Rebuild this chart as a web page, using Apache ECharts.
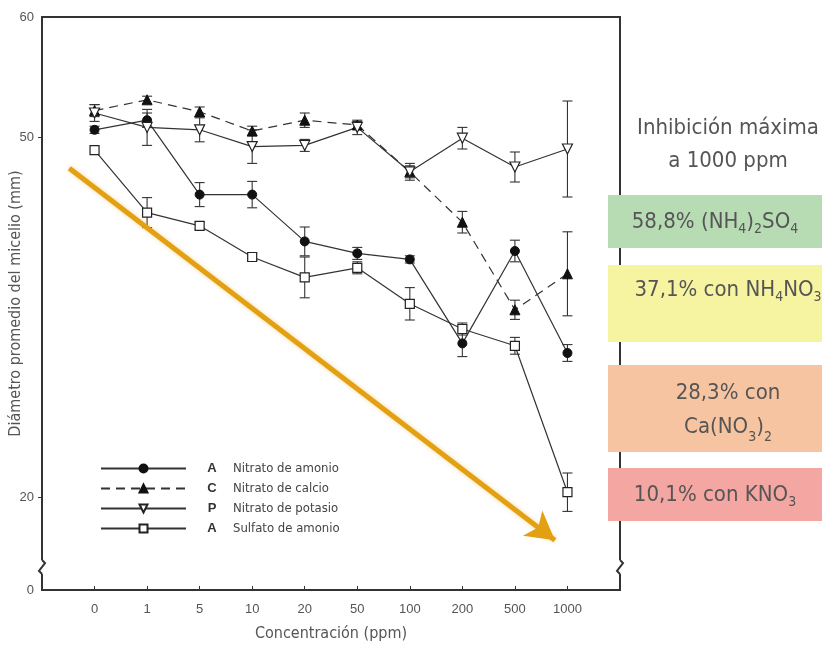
<!DOCTYPE html>
<html><head><meta charset="utf-8">
<script src="https://cdn.jsdelivr.net/npm/echarts@6/dist/echarts.min.js"></script>
<style>html,body{margin:0;padding:0;background:#fff}#c{width:822px;height:645px}</style>
</head><body><div id="c"></div>
<script>
// ---- data ----
const xCats = ['0','1','5','10','20','50','100','200','500','1000'];
const amonio      = [50.6, 51.4, 45.2, 45.2, 41.3, 40.3, 39.8, 32.8, 40.5, 32.0];
const amonioErr   = [0.3, 0.6, 1.0, 1.1, 1.2, 0.5, 0.3, 1.1, 0.9, 0.7];
const calcio      = [52.2, 53.1, 52.1, 50.5, 51.4, 51.0, 47.1, 42.9, 35.6, 38.6];
const calcioErr   = [0.5, 0.3, 0.4, 0.4, 0.6, 0.3, 0.5, 0.9, 0.8, 3.5];
const potasio     = [52.0, 50.8, 50.6, 49.2, 49.3, 50.8, 47.1, 49.9, 47.5, 49.0];
const potasioErr  = [0.7, 1.5, 1.0, 1.4, 0.5, 0.6, 0.7, 0.9, 1.25, 4.0];
const sulfato     = [48.9, 43.7, 42.6, 40.0, 38.3, 39.1, 36.1, 34.0, 32.6, 20.4];
const sulfatoErr  = [0, 1.25, 0.3, 0.3, 1.7, 0.5, 1.35, 0.5, 0.7, 1.6];
const seriesNames = ['Nitrato de amonio','Nitrato de calcio','Nitrato de potasio','Sulfato de amonio'];
const seriesLetters = ['A','C','P','A'];
const yTickValues = [20, 50, 60];
const yBottom = 12.25;          // plotted position of the broken-axis "0"
const yBottomLabel = '0';
const arrowFrom = [-0.48, 47.4];
const arrowTo = [8.76, 16.4];

const narrow = "'Liberation Sans Narrow','DejaVu Sans Condensed','Roboto Condensed',Roboto,sans-serif";
const toPts = arr => arr.map((v,i)=>[i,v]);
const toErr = (v,e) => v.map((val,i)=>[i,val,e[i]]);

function errRender(params, api){
  const x = api.value(0), y = api.value(1), e = api.value(2);
  if(!e) return null;
  const t = api.coord([x, y+e]), b = api.coord([x, y-e]);
  const w = 5, st = {stroke:'#333', lineWidth:1.1};
  return {type:'group', children:[
    {type:'line', shape:{x1:t[0],y1:t[1],x2:b[0],y2:b[1]}, style:st},
    {type:'line', shape:{x1:t[0]-w,y1:t[1],x2:t[0]+w,y2:t[1]}, style:st},
    {type:'line', shape:{x1:b[0]-w,y1:b[1],x2:b[0]+w,y2:b[1]}, style:st}
  ]};
}
function errSeries(vals, errs){
  return {type:'custom', renderItem:errRender, data:toErr(vals,errs), z:2, silent:true,
          encode:{x:0,y:1}};
}
const lineBase = {type:'line', z:3, lineStyle:{color:'#333', width:1.2}, itemStyle:{color:'#111', borderColor:'#111', borderWidth:1}};

const chart = echarts.init(document.getElementById('c'));
chart.setOption({
  animation:false,
  backgroundColor:'#fff',
  grid:{left:42, right:202, top:17, bottom:55, outerBoundsMode:'none', containLabel:false,
    show:true, borderColor:'#333', borderWidth:2, backgroundColor:'transparent'},
  xAxis:{type:'value', min:-1, max:10, interval:1,
    name:'Concentración (ppm)', nameLocation:'middle', nameGap:36, nameMoveOverlap:false,
    nameTextStyle:{fontFamily:narrow, fontSize:16, color:'#555'},
    axisLine:{onZero:false, lineStyle:{color:'#333', width:2}},
    axisTick:{inside:true, length:4, lineStyle:{color:'#333'}},
    axisLabel:{color:'#555', fontFamily:'Liberation Sans, Arial', fontSize:13, margin:13,
      formatter:v => (v>=0 && v<xCats.length) ? xCats[v] : ''},
    splitLine:{show:false}},
  yAxis:{type:'value', min:yBottom, max:60,
    name:'Diámetro promedio del micelio (mm)', nameLocation:'middle', nameGap:18, nameMoveOverlap:false,
    nameTextStyle:{fontFamily:narrow, fontSize:16, color:'#555'},
    axisLine:{onZero:false, lineStyle:{color:'#333', width:2}},
    axisTick:{customValues:[20,50], length:4, lineStyle:{color:'#333'}},
    axisLabel:{customValues:[yBottom].concat(yTickValues), color:'#555', fontFamily:'Liberation Sans, Arial', fontSize:13, margin:8,
      formatter:v => v===yBottom ? yBottomLabel : String(v)},
    splitLine:{show:false}},
  legend:{data:seriesNames, orient:'vertical', left:95, top:457, itemWidth:85, itemHeight:10, itemGap:7,
    formatter:name => '{l|'+seriesLetters[seriesNames.indexOf(name)]+'}{n|'+name+'}',
    textStyle:{rich:{
      l:{width:42, align:'center', fontFamily:'Liberation Sans, Arial', fontWeight:'bold', fontSize:13, color:'#333', lineHeight:14},
      n:{fontFamily:narrow, fontSize:13, color:'#444', lineHeight:14}}}},
  series:[
    errSeries(amonio, amonioErr),
    errSeries(calcio, calcioErr),
    errSeries(potasio, potasioErr),
    errSeries(sulfato, sulfatoErr),
    Object.assign({}, lineBase, {name:seriesNames[0], data:toPts(amonio), symbol:'circle', symbolSize:9}),
    Object.assign({}, lineBase, {name:seriesNames[1], data:toPts(calcio), symbol:'triangle', symbolSize:10,
      lineStyle:{color:'#333', width:1.2, type:[9,6]}}),
    Object.assign({}, lineBase, {name:seriesNames[2], data:toPts(potasio), symbol:'triangle', symbolRotate:180, symbolSize:10,
      itemStyle:{color:'#fff', borderColor:'#222', borderWidth:1.2}}),
    Object.assign({}, lineBase, {name:seriesNames[3], data:toPts(sulfato), symbol:'rect', symbolSize:9,
      itemStyle:{color:'#fff', borderColor:'#222', borderWidth:1.2}}),
    {type:'line', data:[], z:4, silent:true,
      markLine:{silent:true, symbol:['none','arrow'], symbolSize:[24,28], label:{show:false},
        lineStyle:{color:'#E3A012', width:5, type:'solid', shadowColor:'rgba(240,180,60,0.5)', shadowBlur:4},
        data:[[{coord:arrowFrom},{coord:arrowTo}]]}}
  ],
  graphic:[
    // axis break marks
    {type:'rect', shape:{x:36,y:560,width:12,height:14}, style:{fill:'#fff'}, z:100},
    {type:'polyline', shape:{points:[[42,574],[39,571],[45,563],[42,560]]}, style:{stroke:'#333', lineWidth:2, fill:null}, z:101},
    {type:'rect', shape:{x:614,y:560,width:12,height:14}, style:{fill:'#fff'}, z:100},
    {type:'polyline', shape:{points:[[620,574],[617,571],[623,563],[620,560]]}, style:{stroke:'#333', lineWidth:2, fill:null}, z:101},
    // right annotations
    {type:'text', x:728, y:112, z:100, style:{text:'Inhibición máxima\na 1000 ppm', align:'center',
      font:'22px '+narrow, fill:'#555', lineHeight:33}},
    {type:'rect', shape:{x:608,y:195,width:214,height:53}, style:{fill:'#B7DCB4'}, z:99},
    {type:'rect', shape:{x:608,y:265,width:214,height:77}, style:{fill:'#F6F3A1'}, z:99},
    {type:'rect', shape:{x:608,y:365,width:214,height:87}, style:{fill:'#F7C4A1'}, z:99},
    {type:'rect', shape:{x:608,y:468,width:214,height:53}, style:{fill:'#F4A6A2'}, z:99},
    {type:'text', x:715, y:208, z:100, style:{align:'center',
      text:'{m|58,8% (NH}{s|4}{m|)}{s|2}{m|SO}{s|4}',
      rich:{m:{font:'22px '+narrow, fill:'#555', lineHeight:28}, s:{font:'14px '+narrow, fill:'#555', lineHeight:14, verticalAlign:'bottom'}}}},
    {type:'text', x:728, y:276, z:100, style:{align:'center',
      text:'{m|37,1% con NH}{s|4}{m|NO}{s|3}',
      rich:{m:{font:'22px '+narrow, fill:'#555', lineHeight:28}, s:{font:'14px '+narrow, fill:'#555', lineHeight:14, verticalAlign:'bottom'}}}},
    {type:'text', x:728, y:376, z:100, style:{align:'center',
      text:'{m|28,3% con}\n{m|Ca(NO}{s|3}{m|)}{s|2}',
      rich:{m:{font:'22px '+narrow, fill:'#555', lineHeight:34}, s:{font:'14px '+narrow, fill:'#555', lineHeight:14, verticalAlign:'bottom'}}}},
    {type:'text', x:715, y:481, z:100, style:{align:'center',
      text:'{m|10,1% con KNO}{s|3}',
      rich:{m:{font:'22px '+narrow, fill:'#555', lineHeight:28}, s:{font:'14px '+narrow, fill:'#555', lineHeight:14, verticalAlign:'bottom'}}}}
  ]
});
</script></body></html>
